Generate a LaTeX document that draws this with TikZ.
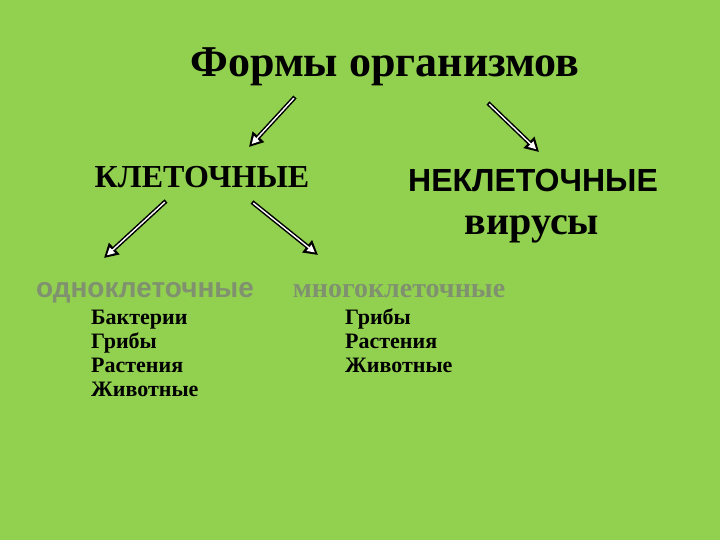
\documentclass[tikz,border=0pt]{standalone}
\usepackage{fontspec}
\setmainfont{Liberation Serif}
\setsansfont{Liberation Sans}
\usetikzlibrary{arrows.meta, positioning}
\definecolor{slide}{RGB}{146,208,80}
\definecolor{pale}{RGB}{128,145,112}
\begin{document}
\begin{tikzpicture}[x=1pt, y=-1pt,
      lbl/.style={inner sep=0pt, anchor=base, font=\bfseries},
      lst/.style={inner sep=0pt, anchor=base west, align=left, font=\fontsize{22}{24}\selectfont\bfseries},
      arr/.style={line width=4.4pt, -{Triangle[length=14pt, width=15pt]},
        postaction={draw=white, line width=1.4pt, shorten <=1.6pt, shorten >=4pt, -{Triangle[length=7.5pt, width=7.5pt]}}}]
      \fill[slide] (0,0) rectangle (720,540);
      \useasboundingbox (0,0) rectangle (720,540);

      \draw node[lbl, font=\fontsize{44}{52}\selectfont\bfseries] (title) at (385,77) {Формы организмов};

      \draw node[lbl, font=\fontsize{32}{38}\selectfont\bfseries] (cell) at (202,188) {КЛЕТОЧНЫЕ};
      \draw node[lbl, font=\fontsize{32}{38}\selectfont\sffamily\bfseries] (noncell) at (533,192) {НЕКЛЕТОЧНЫЕ}
        node[lbl, font=\fontsize{40}{46}\selectfont\bfseries] (virus) at (532,234) {вирусы};

      \draw node[lbl, text=pale, font=\fontsize{28}{32}\selectfont\sffamily\bfseries] (uni) at (145,297) {одноклеточные};
      \draw node[lbl, text=pale, font=\fontsize{28}{32}\selectfont\bfseries] (multi) at (399,297) {многоклеточные};

      \draw node[lst] (unilist) at (91,396) {Бактерии\\Грибы\\Растения\\Животные};
      \draw node[lst] (multilist) at (345,372) {Грибы\\Растения\\Животные};

      \coordinate (a1) at (295,97);  \coordinate (b1) at (249,147);
      \coordinate (a2) at (488,103); \coordinate (b2) at (539,152);
      \coordinate (a3) at (166,201); \coordinate (b3) at (104,258);
      \coordinate (a4) at (252,202); \coordinate (b4) at (318,255);
      \draw[arr] (a1) -- (b1);
      \draw[arr] (a2) -- (b2);
      \draw[arr] (a3) -- (b3);
      \draw[arr] (a4) -- (b4);
    \end{tikzpicture}
\end{document}
